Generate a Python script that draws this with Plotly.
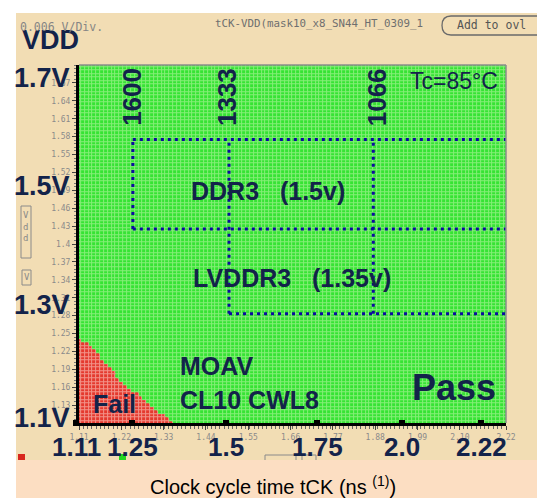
import numpy as np
import plotly.graph_objects as go

# shmoo sweep (tCK in ns, VDD in V)
tck_min, tck_max, tck_points = 1.11, 2.22, 112
vdd_min, vdd_max, vdd_points = 1.10, 1.70, 101

# fail boundary: highest failing tCK on each low VDD row
fail_vdd = [1.100, 1.106, 1.112, 1.118, 1.124, 1.130, 1.136, 1.142, 1.148, 1.154, 1.160, 1.166,
            1.172, 1.178, 1.184, 1.190, 1.196, 1.202, 1.208, 1.214, 1.220, 1.226, 1.232, 1.238]
fail_tck = [1.35, 1.34, 1.33, 1.31, 1.30, 1.29, 1.28, 1.27, 1.26, 1.24, 1.23, 1.22,
            1.21, 1.20, 1.20, 1.19, 1.18, 1.17, 1.16, 1.16, 1.15, 1.14, 1.13, 1.11]

# speed bins (MT/s) and their tCK
speed_labels = ["1600", "1333", "1066"]
speed_tck = [1.25, 1.5, 1.875]

# supply windows
ddr3_vdd = [1.425, 1.575]
lvddr3_low = 1.283

x_tick_text = ["1.11", "1.22", "1.33", "1.44", "1.55", "1.66", "1.77", "1.88", "1.99", "2.10", "2.22"]
y_tick_text = ["1.13", "1.16", "1.19", "1.22", "1.25", "1.28", "1.31", "1.34", "1.37", "1.4",
               "1.43", "1.46", "1.49", "1.52", "1.55", "1.58", "1.61", "1.64", "1.67"]
big_x_text = ["1.11", "1.25", "1.5", "1.75", "2.0", "2.22"]
big_y = [1.7, 1.5, 1.3, 1.1]
big_y_text = ["1.7V", "1.5V", "1.3V", "1.1V"]

W, H = 545, 498
L, R, T, B = 71, 47, 57, 83
PW, PH = W - L - R, H - T - B


def px(x):
    return (x - L) / PW


def py(y):
    return (H - B - y) / PH


NAVY = "#13234A"
BIG = "Liberation Sans, Arial, sans-serif"
MONO = "DejaVu Sans Mono, monospace"

tck = np.round(np.linspace(tck_min, tck_max, tck_points), 3)
vdd = np.round(np.linspace(vdd_min, vdd_max, vdd_points), 3)
limit = dict(zip(np.round(fail_vdd, 3), fail_tck))
z = [[1 if (v in limit and t <= limit[v] + 1e-9) else 0 for t in tck] for v in vdd]

fig = go.Figure()
# light layer shows through the cell gaps as the shmoo grid texture
fig.add_trace(go.Heatmap(x=tck, y=vdd, z=z, zmin=0, zmax=1, showscale=False, hoverinfo="skip",
                         colorscale=[[0, "#86EE78"], [0.5, "#86EE78"], [0.5, "#F2948A"], [1, "#F2948A"]]))
fig.add_trace(go.Heatmap(x=tck, y=vdd, z=z, zmin=0, zmax=1, showscale=False, xgap=1, ygap=1,
                         colorscale=[[0, "#36E334"], [0.5, "#36E334"], [0.5, "#E4392E"], [1, "#E4392E"]]))

# dotted spec windows
t1600, t1333, t1066 = speed_tck
lx = [t1600, tck_max, None, t1600, tck_max, None, t1333, tck_max, None,
      t1600, t1600, None, t1333, t1333, None, t1066, t1066]
ly = [ddr3_vdd[1], ddr3_vdd[1], None, ddr3_vdd[0], ddr3_vdd[0], None, lvddr3_low, lvddr3_low, None,
      ddr3_vdd[0], ddr3_vdd[1], None, lvddr3_low, ddr3_vdd[1], None, lvddr3_low, ddr3_vdd[1]]
fig.add_trace(go.Scatter(x=lx, y=ly, mode="lines", hoverinfo="skip",
                         line=dict(color="#0B0B9E", width=3, dash="3px,4px")))

# black markers on the y axis
fig.add_trace(go.Scatter(x=[tck_min - 0.009] * len(big_y), y=big_y, mode="markers", cliponaxis=False,
                         marker=dict(symbol="square", size=6, color="black"), hoverinfo="skip"))

big_x_px = [68, 124, 218, 309, 394, 473]

ann = []
for xp, s in zip(big_x_px, big_x_text):
    ann.append(dict(x=px(xp), xref="paper", y=py(439), yref="paper", text=f"<b>{s}</b>",
                    font=dict(family=BIG, size=26, color=NAVY), xanchor="center", yanchor="middle"))
for v, s in zip(big_y, big_y_text):
    shift = {1.7: -13, 1.5: -2, 1.3: -1, 1.1: 5}[v]
    ann.append(dict(x=px(64), xref="paper", y=v, yref="y", yshift=shift, text=f"<b>{s}</b>",
                    font=dict(family=BIG, size=27, color=NAVY), xanchor="right", yanchor="middle"))
for v, s, dx in zip(speed_tck, speed_labels, [-1, -2, 4]):
    ann.append(dict(x=v, xref="x", y=py(89), yref="paper", xshift=dx, text=f"<b>{s}</b>", textangle=-90,
                    font=dict(family=BIG, size=26, color=NAVY), xanchor="center", yanchor="middle"))


def txt(x, y, s, size, bold=True, color=NAVY, family=BIG, anchor="left"):
    ann.append(dict(x=px(x), y=py(y), xref="paper", yref="paper", text=f"<b>{s}</b>" if bold else s,
                    font=dict(family=family, size=size, color=color), xanchor=anchor, yanchor="middle"))


txt(12, 32, "VDD", 27)
txt(492, 73, "Tc=85°C", 23, bold=False, anchor="right")
txt(181, 183, "DDR3\u00a0\u00a0 (1.5v)", 25)
txt(183, 270, "LVDDR3\u00a0\u00a0 (1.35v)", 25)
txt(170, 358, "MOAV", 25)
txt(170, 392, "CL10 CWL8", 25)
txt(402, 379, "Pass", 36)
txt(83, 396, "Fail", 25)
txt(265, 477, "Clock cycle time tCK (ns <sup>(1)</sup>)", 20, bold=False, color="black", anchor="center")
txt(10, 19, "0.006 V/Div.", 11.5, bold=False, color="#858585", family=MONO)
txt(205, 15, "tCK-VDD(mask10_x8_SN44_HT_0309_1", 10.8, bold=False, color="#6f6f6f", family=MONO)
txt(447, 17, "Add to ovl", 11.5, bold=False, color="#555555", family=MONO)
ann.append(dict(x=px(18), y=py(200), xref="paper", yref="paper", text="V<br>d<br>d",
                font=dict(family=MONO, size=9, color="#8a8a8a"), xanchor="center", yanchor="top"))
ann.append(dict(x=px(19), y=py(269), xref="paper", yref="paper", text="V",
                font=dict(family=MONO, size=9, color="#8a8a8a"), xanchor="center", yanchor="middle"))
for a in ann:
    a["showarrow"] = False


def rect(x0, y0, x1, y1, fill=None, line=None, width=1, layer="below"):
    return dict(type="rect", xref="paper", yref="paper", x0=px(x0), x1=px(x1), y0=py(y0), y1=py(y1),
                fillcolor=fill or "rgba(0,0,0,0)", line=dict(color=line or "rgba(0,0,0,0)", width=width),
                layer=layer)


# rounded button outline
bx0, bx1, by0, by1, r = 434, 541, 8, 27, 9
ym = (by0 + by1) / 2
path = (f"M {px(bx0 + r)},{py(by0)} L {px(bx1 - r)},{py(by0)} "
        f"Q {px(bx1)},{py(by0)} {px(bx1)},{py(ym)} Q {px(bx1)},{py(by1)} {px(bx1 - r)},{py(by1)} "
        f"L {px(bx0 + r)},{py(by1)} "
        f"Q {px(bx0)},{py(by1)} {px(bx0)},{py(ym)} Q {px(bx0)},{py(by0)} {px(bx0 + r)},{py(by0)} Z")

shapes = [
    rect(0, 0, W, 5, fill="white"),
    rect(0, 0, 8, H, fill="white"),
    rect(10, 446, 17, 452, fill="#D8271E"),
    rect(111, 446, 118, 452, fill="#22D822"),
    rect(257, 447, 288, 455, line="#8a8a8a"),
    rect(294, 447, 308, 455, line="#8a8a8a"),
    rect(8, 452, W, H, fill="#FCDEC2"),
    rect(13, 198, 23, 250, line="#8a8a8a"),
    rect(14, 262, 23, 277, line="#8a8a8a"),
    dict(type="path", xref="paper", yref="paper", path=path, line=dict(color="#6a6a6a", width=1.3)),
    dict(type="line", xref="paper", yref="paper", x0=0, x1=1, y0=1, y1=1, line=dict(color="#8c8c8c", width=1.5)),
    dict(type="line", xref="paper", yref="paper", x0=1, x1=1, y0=0, y1=1, line=dict(color="#8c8c8c", width=1.5)),
]
# black squares on the x axis under the big labels
for xp in big_x_px:
    shapes.append(dict(type="rect", xref="paper", yref="paper", x0=px(xp - 3), x1=px(xp + 3),
                       y0=py(418), y1=py(412), fillcolor="black", line=dict(width=0), layer="above"))

fig.update_layout(
    width=W, height=H, margin=dict(l=L, r=R, t=T, b=B),
    paper_bgcolor="#F2DDB4", plot_bgcolor="#36E334", showlegend=False,
    annotations=ann, shapes=shapes,
    xaxis=dict(range=[tck_min, tck_max], showgrid=False, zeroline=False, showline=True, linecolor="black",
               linewidth=3, ticks="outside", ticklen=4, tickcolor="#444",
               tickvals=[float(s) for s in x_tick_text], ticktext=x_tick_text,
               tickfont=dict(family=MONO, size=8, color="#8a8a8a"),
               minor=dict(ticks="outside", ticklen=3, tick0=tck_min, dtick=0.0111, tickcolor="#666")),
    yaxis=dict(range=[vdd_min, vdd_max], showgrid=False, zeroline=False, showline=True, linecolor="black",
               linewidth=3, ticks="outside", ticklen=4, tickcolor="#444",
               tickvals=[float(s) for s in y_tick_text], ticktext=y_tick_text,
               tickfont=dict(family=MONO, size=8, color="#8a8a8a"),
               minor=dict(ticks="outside", ticklen=2, tick0=vdd_min, dtick=0.006, tickcolor="#777")),
)

fig.write_html("out.html")
